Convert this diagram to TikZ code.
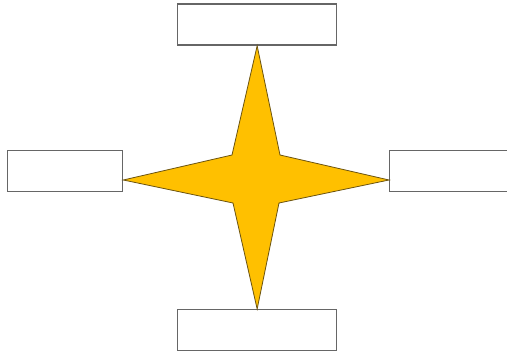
\documentclass[tikz,border=0pt]{standalone}
\begin{document}
\begin{tikzpicture}[x=1pt,y=-1pt,
  boxst/.style={draw=black!60,line width=1.3pt,fill=white,minimum width=#1,minimum height=41pt,inner sep=0pt,anchor=north west},
  starst/.style={fill=starfill,draw=starline,line width=0.8pt,line join=miter}]
\definecolor{starfill}{HTML}{FFC000}
\definecolor{starline}{HTML}{6B5310}
\useasboundingbox (0,0) rectangle (507,353);
\node[boxst=159pt] (top) at (177,3.5) {};
\node[boxst=115pt] (left) at (7,150) {};
\node[boxst=118pt] (right) at (389,150) {};
\node[boxst=159pt] (bottom) at (177,309) {};
\coordinate (c) at (256,180);
\filldraw[starst] (top.south) -- (232,155) -- (left.east |- c) -- (233,203) -- (bottom.north) -- (279,203) -- (right.west |- c) -- (280,155) -- cycle;
\end{tikzpicture}
\end{document}
